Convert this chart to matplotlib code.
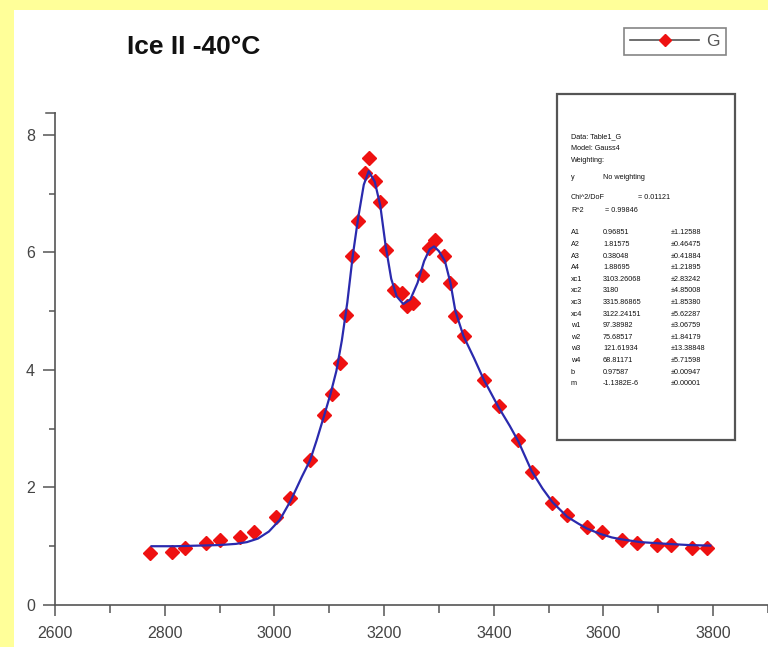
import matplotlib
matplotlib.use("Agg")
import matplotlib.pyplot as plt
from matplotlib.patches import Rectangle
from matplotlib.lines import Line2D
from matplotlib.ticker import MultipleLocator

plt.rcParams['font.family'] = ['Liberation Sans', 'DejaVu Sans']

# Measured spectrum (series "G")
wavenumber = [2773, 2813, 2837, 2876, 2901, 2938, 2963, 3003, 3029, 3065,
              3090, 3105, 3119, 3130, 3142, 3153, 3166, 3173, 3183, 3193,
              3204, 3218, 3232, 3241, 3253, 3269, 3281, 3293, 3309, 3321,
              3330, 3345, 3382, 3409, 3445, 3469, 3507, 3534, 3570, 3598,
              3634, 3661, 3697, 3723, 3762, 3789]
intensity = [0.88, 0.91, 0.97, 1.05, 1.11, 1.16, 1.25, 1.49, 1.82, 2.46,
             3.23, 3.59, 4.11, 4.94, 5.94, 6.54, 7.35, 7.61, 7.22, 6.86,
             6.04, 5.36, 5.31, 5.08, 5.14, 5.62, 6.07, 6.21, 5.93, 5.48,
             4.91, 4.57, 3.83, 3.38, 2.81, 2.27, 1.73, 1.53, 1.33, 1.25,
             1.11, 1.05, 1.02, 1.02, 0.97, 0.97]

# Fitted curve (Gauss4 model output)
fit_x = [2776, 2820, 2860, 2900, 2930, 2950, 2970, 2990, 3010, 3030,
         3050, 3065, 3077, 3090, 3102, 3113, 3123, 3133, 3143, 3153,
         3163, 3172, 3183, 3193, 3203, 3213, 3223, 3235, 3248, 3261,
         3273, 3283, 3291, 3300, 3311, 3321, 3330, 3345, 3364, 3382,
         3409, 3429, 3445, 3469, 3489, 3507, 3534, 3555, 3570, 3594,
         3615, 3631, 3667, 3716, 3755, 3795]
fit_y = [1.00, 1.00, 1.01, 1.02, 1.04, 1.07, 1.13, 1.25, 1.45, 1.78,
         2.18, 2.46, 2.80, 3.20, 3.58, 3.98, 4.50, 5.15, 5.95, 6.60,
         7.15, 7.38, 7.20, 6.80, 6.10, 5.55, 5.25, 5.12, 5.20, 5.48,
         5.85, 6.05, 6.10, 6.02, 5.85, 5.48, 5.00, 4.57, 4.20, 3.83,
         3.36, 3.05, 2.78, 2.28, 1.98, 1.75, 1.50, 1.38, 1.30, 1.21,
         1.15, 1.12, 1.07, 1.04, 1.02, 1.01]

x_limits = (2600, 3900)
y_limits = (0, 8.37)
x_major, x_minor = 200, 100
y_major, y_minor = 2, 1

title_text = "Ice II -40\u00b0C"
series_label = "G"

report_header = ["Data: Table1_G", "Model: Gauss4", "Weighting:"]
report_weight = ("y", "No weighting")
report_stats = [("Chi^2/DoF", "= 0.01121", 638), ("R^2", "= 0.99846", 605)]
param_names = ["A1", "A2", "A3", "A4", "xc1", "xc2", "xc3", "xc4",
               "w1", "w2", "w3", "w4", "b", "m"]
param_values = ["0.96851", "1.81575", "0.38048", "1.88695", "3103.26068",
                "3180", "3315.86865", "3122.24151", "97.38982", "75.68517",
                "121.61934", "68.81171", "0.97587", "-1.1382E-6"]
param_errors = ["\u00b11.12588", "\u00b10.46475", "\u00b10.41884", "\u00b11.21895",
                "\u00b12.83242", "\u00b14.85008", "\u00b11.85380", "\u00b15.62287",
                "\u00b13.06759", "\u00b11.84179", "\u00b113.38848", "\u00b15.71598",
                "\u00b10.00947", "\u00b10.00001"]

W, H = 768, 647
fig = plt.figure(figsize=(W / 100, H / 100), dpi=100)
fig.patch.set_facecolor('#FFFF99')


def fx(px):
    return px / W


def fy(py):
    return 1 - py / H


# white page on the yellow background
fig.patches.append(Rectangle((fx(14), 0), 1, fy(10), transform=fig.transFigure,
                             facecolor='white', edgecolor='none', zorder=-5))

ax = fig.add_axes([fx(55), fy(605), (W - 55) / W, (605 - 113) / H])
ax.set_facecolor('none')

ax.plot(wavenumber, intensity, linestyle='none', marker='D', markersize=7,
        color='#EE1111', markeredgecolor='#EE1111', zorder=3)
ax.plot(fit_x, fit_y, color='#2A2AAE', linewidth=1.6, zorder=4)

ax.set_xlim(*x_limits)
ax.set_ylim(*y_limits)
ax.xaxis.set_major_locator(MultipleLocator(x_major))
ax.xaxis.set_minor_locator(MultipleLocator(x_minor))
ax.yaxis.set_major_locator(MultipleLocator(y_major))
ax.yaxis.set_minor_locator(MultipleLocator(y_minor))

for side in ('top', 'right'):
    ax.spines[side].set_visible(False)
for side in ('left', 'bottom'):
    ax.spines[side].set_color('#555555')
    ax.spines[side].set_linewidth(1.2)

ax.tick_params(axis='both', which='both', direction='out', color='#555555',
               width=1.1, labelcolor='#444444', labelsize=11.5)
ax.tick_params(axis='x', which='major', length=8, pad=7)
ax.tick_params(axis='x', which='minor', length=6)
ax.tick_params(axis='y', which='major', length=8.5, pad=6)
ax.tick_params(axis='y', which='minor', length=4.5)

# short cap at the top end of the y axis
ax.plot([-0.012, 0], [1, 1], transform=ax.transAxes, color='#555555',
        linewidth=1.1, clip_on=False)

fig.text(fx(127), fy(47), title_text, fontsize=19, fontweight='bold',
         color='#111111', ha='left', va='center')

handle = Line2D([], [], color='#555555', linewidth=1.2, marker='D',
                markersize=6.5, markerfacecolor='#EE1111',
                markeredgecolor='#EE1111')
leg = fig.legend([handle], [series_label], loc='upper right',
                 bbox_to_anchor=(fx(726), fy(28)), frameon=True,
                 fancybox=False, shadow=False, handlelength=4.0,
                 handletextpad=0.4, borderpad=0.35, borderaxespad=0,
                 fontsize=12.5, labelcolor='#555555')
leg.get_frame().set_edgecolor('#666666')
leg.get_frame().set_linewidth(1.2)

# fit report box
fig.patches.append(Rectangle((fx(557), fy(440)), fx(735) - fx(557),
                             fy(94) - fy(440), transform=fig.transFigure,
                             facecolor='white', edgecolor='#555555',
                             linewidth=1.6, zorder=5))

fs = 5.2
tx = dict(fontsize=fs, color='#111111', va='center', ha='left', zorder=6)
for i, line in enumerate(report_header):
    fig.text(fx(571), fy(137 + 12 * i), line, **tx)
fig.text(fx(571), fy(177), report_weight[0], **tx)
fig.text(fx(603), fy(177), report_weight[1], **tx)
for i, (name, val, vx) in enumerate(report_stats):
    fig.text(fx(571), fy(198 + 12.5 * i), name, **tx)
    fig.text(fx(vx), fy(198 + 12.5 * i), val, **tx)
for i, (name, val, err) in enumerate(zip(param_names, param_values, param_errors)):
    y = 233 + 11.6 * i
    fig.text(fx(571), fy(y), name, **tx)
    fig.text(fx(603), fy(y), val, **tx)
    fig.text(fx(671), fy(y), err, **tx)

fig.savefig("out.png", dpi=100, facecolor=fig.get_facecolor())
